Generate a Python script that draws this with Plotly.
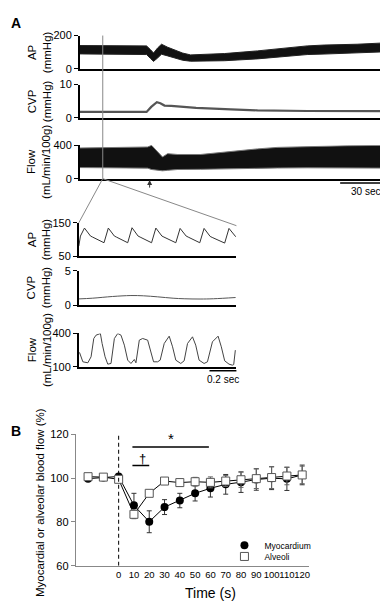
import plotly.graph_objects as go

W, H = 388, 601
FONT = "Arial, Liberation Sans, sans-serif"

def px(x):
    return x / W

def py(y):
    return 1 - y / H

# ---------------- Panel A: long recording (time in s) ----------------
ap_t = [0, 16.8, 34.8, 40.2, 42.6, 44.4, 46.8, 49.2, 52.9, 57.1, 61.9, 66.7, 76.9, 87.1, 106.9, 126.7, 136.9, 147.1, 167.0, 188]
ap_hi = [140, 141, 140, 138, 115, 95, 125, 148, 130, 113, 95, 84, 86, 92, 108, 130, 138, 143, 148, 158]
ap_lo = [90, 89, 88, 86, 62, 45, 65, 88, 78, 65, 52, 46, 46, 49, 60, 80, 86, 89, 96, 104]

cvp_t = [0, 40.2, 43, 46.4, 48.5, 51, 55, 59, 70, 91, 107, 137, 160, 188]
cvp_v = [1.8, 1.8, 3.3, 4.7, 4.4, 3.7, 3.6, 3.4, 3.0, 2.55, 2.25, 2.06, 2.0, 2.0]

flow_t = [0, 16.8, 34.8, 40.8, 43.2, 46.8, 49.8, 52.9, 58.9, 72.7, 91.9, 106.9, 118.9, 136.9, 161, 188]
flow_hi = [368, 372, 375, 380, 400, 320, 260, 300, 290, 290, 330, 357, 375, 385, 395, 400]
flow_lo = [133, 130, 128, 126, 110, 105, 94, 100, 110, 112, 120, 130, 128, 130, 130, 126]

# ---------------- Panel A: expanded view (time in ms) ----------------
iap_t = [0, 12, 42, 62, 87, 102, 142, 187,
         219, 239, 264, 279, 319, 363,
         395, 415, 440, 455, 495, 540,
         572, 592, 617, 632, 672, 720,
         752, 772, 797, 812, 852, 898,
         930, 950, 975, 990, 1030, 1083,
         1115, 1135, 1155, 1165]
iap_v = [80, 110, 134, 124, 110, 107, 99, 90,
         134, 124, 110, 107, 99, 90,
         135, 124, 110, 107, 99, 90,
         134, 123, 110, 107, 99, 90,
         133, 123, 110, 107, 99, 90,
         133, 122, 109, 106, 99, 89,
         133, 122, 112, 108]

icvp_t = [0, 100, 250, 387, 480, 585, 700, 782, 900, 1000, 1164]
icvp_v = [0.9, 1.0, 1.25, 1.39, 1.35, 1.2, 1.0, 0.92, 0.88, 0.92, 1.1]

iflow_t = [5, 12, 30, 67, 91, 111, 128, 150, 160, 173, 195, 215, 239, 264, 289, 313, 338, 363,
           387, 412, 424, 449, 474, 511, 535, 555, 585, 604, 634, 671, 696, 720, 757, 782,
           807, 844, 868, 893, 930, 955, 992, 1034, 1058, 1083, 1115, 1140, 1150, 1162]
iflow_v = [230, 200, 145, 136, 190, 355, 385, 395, 400, 310, 190, 124, 130, 355, 400, 385, 295, 160,
           130, 166, 136, 340, 355, 340, 235, 145, 145, 160, 310, 376, 280, 160, 130, 154,
           310, 370, 295, 160, 130, 145, 325, 376, 280, 154, 124, 115, 120, 250]

# ---------------- Panel B ----------------
time_b = [-20, -10, 0, 10, 20, 30, 40, 50, 60, 70, 80, 90, 100, 110, 120]
myo = [99.8, 100.3, 100.8, 87.6, 80.1, 86.8, 89.8, 93.1, 95.4, 97.2, 98.2, 99.4, 100.0, 99.7, 101.5]
myo_sd = [0.5, 0.5, 0.5, 5.5, 5.0, 3.4, 3.3, 3.5, 4.0, 4.5, 4.7, 4.9, 5.2, 5.3, 4.5]
alv = [100.7, 100.5, 99.5, 83.5, 93.1, 98.7, 98.0, 98.4, 98.1, 98.7, 99.3, 99.8, 100.3, 101.0, 101.5]
alv_sd = [0.5, 0.5, 0.8, 2.0, 1.0, 1.5, 1.5, 2.0, 2.5, 2.5, 3.5, 4.5, 5.0, 4.0, 4.0]
xticks_b = [0, 10, 20, 30, 40, 50, 60, 70, 80, 90, 100, 110, 120]
yticks_b = [60, 80, 100, 120]
star_span = [9, 59]
dagger_span = [9, 20]

fig = go.Figure()

def band(t, hi, lo, xa, ya, fillc, linec):
    fig.add_trace(go.Scatter(x=t, y=hi, mode="lines", line=dict(color=linec, width=1),
                             xaxis=xa, yaxis=ya, showlegend=False, hoverinfo="skip"))
    fig.add_trace(go.Scatter(x=t, y=lo, mode="lines", line=dict(color=linec, width=1),
                             fill="tonexty", fillcolor=fillc,
                             xaxis=xa, yaxis=ya, showlegend=False, hoverinfo="skip"))

band(ap_t, ap_hi, ap_lo, "x", "y", "#111111", "#222222")
fig.add_trace(go.Scatter(x=cvp_t, y=cvp_v, mode="lines", line=dict(color="#555555", width=2.2),
                         xaxis="x2", yaxis="y2", showlegend=False))
band(flow_t, flow_hi, flow_lo, "x3", "y3", "#111111", "#777777")

fig.add_trace(go.Scatter(x=iap_t, y=iap_v, mode="lines", line=dict(color="#333333", width=1),
                         xaxis="x4", yaxis="y4", showlegend=False))
fig.add_trace(go.Scatter(x=icvp_t, y=icvp_v, mode="lines", line=dict(color="#555555", width=1, shape="spline"),
                         xaxis="x5", yaxis="y5", showlegend=False))
fig.add_trace(go.Scatter(x=iflow_t, y=iflow_v, mode="lines", line=dict(color="#444444", width=1),
                         xaxis="x6", yaxis="y6", showlegend=False))

# Panel B
fig.add_trace(go.Scatter(x=time_b, y=myo, mode="lines", line=dict(color="black", width=1),
                         xaxis="x7", yaxis="y7", showlegend=False))
fig.add_trace(go.Scatter(x=time_b, y=myo, mode="markers", name="Myocardium", legend="legend",
                         marker=dict(symbol="circle", size=8, color="black"),
                         error_y=dict(type="data", array=myo_sd, color="#333333", thickness=1, width=2.5),
                         xaxis="x7", yaxis="y7"))
fig.add_trace(go.Scatter(x=time_b, y=alv, mode="lines", line=dict(color="black", width=1),
                         xaxis="x7", yaxis="y7", showlegend=False))
fig.add_trace(go.Scatter(x=time_b, y=alv, mode="markers", name="Alveoli", legend="legend2",
                         marker=dict(symbol="square", size=8, color="white", line=dict(color="#555555", width=1)),
                         error_y=dict(type="data", array=alv_sd, color="#666666", thickness=1, width=2.5),
                         xaxis="x7", yaxis="y7"))

tickfont = dict(family=FONT, size=11, color="black")

def xax(dom, rng, anchor, lc="black", lw=1.5):
    return dict(domain=dom, range=rng, anchor=anchor, showline=True, linecolor=lc, linewidth=lw,
                showticklabels=False, ticks="", showgrid=False, zeroline=False, fixedrange=True)

def yax(dom, rng, anchor, tv, lc="black", lw=1.5):
    return dict(domain=dom, range=rng, anchor=anchor, showline=True, linecolor=lc, linewidth=lw,
                tickvals=tv, ticks="outside", ticklen=4, tickcolor=lc, tickwidth=1,
                tickfont=tickfont, showgrid=False, zeroline=False, fixedrange=True)

topx = [px(72), px(385)]
insx = [px(71), px(229)]

legfont = dict(family=FONT, size=8.5, color="black")

layout = dict(
    width=W, height=H, margin=dict(l=0, r=0, t=0, b=0),
    paper_bgcolor="white", plot_bgcolor="white",
    font=dict(family=FONT, color="black"),
    xaxis=xax(topx, [0, 188], "y"),
    yaxis=yax([py(56), py(22)], [0, 200], "x", [0, 200]),
    xaxis2=xax(topx, [0, 188], "y2"),
    yaxis2=yax([py(106), py(72)], [0, 10], "x2", [0, 10]),
    xaxis3=xax(topx, [0, 188], "y3"),
    yaxis3=yax([py(168), py(134)], [0, 400], "x3", [0, 400]),
    xaxis4=xax(insx, [0, 1170], "y4"),
    yaxis4=yax([py(247), py(213)], [50, 150], "x4", [50, 150]),
    xaxis5=xax(insx, [0, 1170], "y5"),
    yaxis5=yax([py(297), py(262)], [0, 5], "x5", [0, 5]),
    xaxis6=xax(insx, [0, 1170], "y6"),
    yaxis6=yax([py(360), py(326)], [100, 400], "x6", [100, 400]),
    xaxis7=dict(domain=[px(68), px(302)], range=[-28, 124.6], anchor="y7", showline=True,
                linecolor="#888888", linewidth=1, tickvals=xticks_b, ticks="", tickangle=0,
                tickfont=dict(family=FONT, size=9.5, color="black"), showgrid=False, zeroline=False,
                fixedrange=True),
    yaxis7=yax([py(563), py(429)], [60, 120], "x7", yticks_b, lc="#888888", lw=1),
    showlegend=True,
    legend=dict(x=px(217), y=py(542), xanchor="left", yanchor="middle", bgcolor="rgba(0,0,0,0)",
                font=legfont, traceorder="normal", itemsizing="trace"),
    legend2=dict(x=px(217), y=py(553.5), xanchor="left", yanchor="middle", bgcolor="rgba(0,0,0,0)",
                 font=legfont, traceorder="normal", itemsizing="trace"),
)
fig.update_layout(**layout)

shapes = []
shapes.append(dict(type="line", xref="paper", yref="paper", x0=px(95), x1=px(95), y0=py(22), y1=py(168),
                   line=dict(color="#888888", width=1)))
shapes.append(dict(type="line", xref="paper", yref="paper", x0=px(95), x1=px(71), y0=py(168), y1=py(213),
                   line=dict(color="#888888", width=1)))
shapes.append(dict(type="line", xref="paper", yref="paper", x0=px(95), x1=px(229), y0=py(168), y1=py(216),
                   line=dict(color="#888888", width=1)))
shapes.append(dict(type="line", xref="paper", yref="paper", x0=px(333), x1=px(385), y0=py(172.5), y1=py(172.5),
                   line=dict(color="black", width=1.5)))
shapes.append(dict(type="line", xref="paper", yref="paper", x0=px(202), x1=px(229), y0=py(364), y1=py(364),
                   line=dict(color="black", width=1.5)))
shapes.append(dict(type="line", xref="x7", yref="y7", x0=0, x1=0, y0=60, y1=120,
                   line=dict(color="black", width=1, dash="4px,3px")))
shapes.append(dict(type="line", xref="x7", yref="y7", x0=star_span[0], x1=star_span[1], y0=114.3, y1=114.3,
                   line=dict(color="black", width=1.5)))
shapes.append(dict(type="line", xref="x7", yref="y7", x0=dagger_span[0], x1=dagger_span[1], y0=105.8, y1=105.8,
                   line=dict(color="black", width=1.5)))
fig.update_layout(shapes=shapes)

ann = []
def label(text, x, y, size=11.5, angle=0, bold=False, xanchor="center", family=FONT):
    t = f"<b>{text}</b>" if bold else text
    ann.append(dict(text=t, x=px(x), y=py(y), xref="paper", yref="paper", showarrow=False,
                    textangle=angle, xanchor=xanchor, yanchor="middle",
                    font=dict(family=family, size=size, color="black")))

label("A", 8, 9, size=14, bold=True)
label("B", 8, 425, size=14, bold=True)
label("AP<br>(mmHg)", 31, 39, angle=-90)
label("CVP<br>(mmHg)", 31, 89, angle=-90)
label("Flow<br>(mL/min/100g)", 31, 151, angle=-90)
label("AP<br>(mmHg)", 31, 230, angle=-90)
label("CVP<br>(mmHg)", 31, 279, angle=-90)
label("Flow<br>(mL/min/100g)", 31, 343, angle=-90)
label("30 sec", 358, 181.5, size=10)
label("0.2 sec", 215.5, 373, size=10)
label("Myocardial or alveolar blood flow (%)", 32, 498, angle=-90, size=11.5)
label("Time (s)", 203, 591, size=14)
label("*", 163.5, 433, size=15)
label("†", 134.5, 454, size=13, family="Liberation Sans")
ann.append(dict(text="", x=px(142), y=py(169.5), xref="paper", yref="paper", showarrow=True,
                ax=0, ay=9, arrowhead=2, arrowsize=1, arrowwidth=1, arrowcolor="#333333"))
fig.update_layout(annotations=ann)

fig.write_html("out.html")
